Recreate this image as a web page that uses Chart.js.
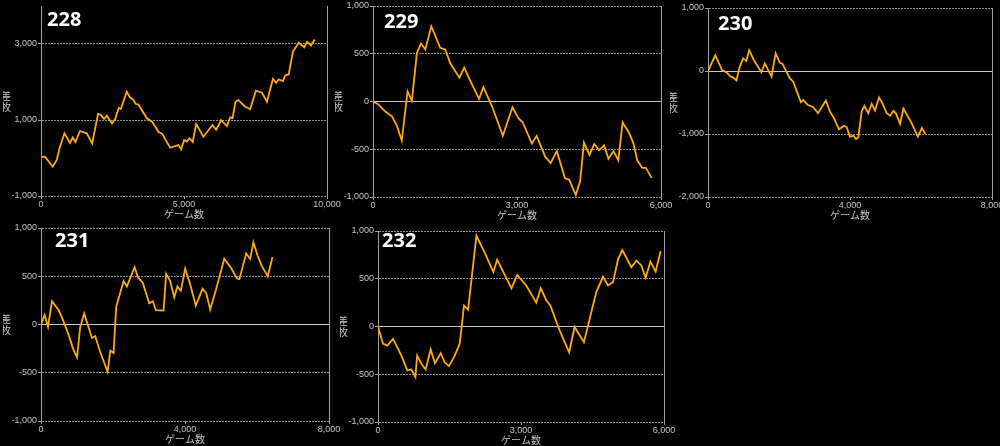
<!DOCTYPE html>
<html>
<head>
<meta charset="utf-8">
<script src="https://cdn.jsdelivr.net/npm/chart.js@4/dist/chart.umd.min.js"></script>
<style>
  html, body { margin: 0; padding: 0; background: #000; }
  body { position: relative; width: 1000px; height: 446px; overflow: hidden; }
  canvas { position: absolute; }
  .num { position: absolute; color: #fff; font: bold 20px "Noto Sans", sans-serif; line-height: 20px; }
</style>
</head>
<body>
<script>
// machine 228
const games228 = [0, 140, 410, 550, 665, 820, 1015, 1110, 1200, 1365, 1600, 1790, 1995, 2085, 2205, 2300, 2485, 2590, 2720, 2790, 3000, 3115, 3230, 3315, 3405, 3700, 3885, 4105, 4245, 4515, 4805, 4900, 5005, 5100, 5190, 5305, 5425, 5680, 5995, 6125, 6300, 6500, 6615, 6700, 6800, 6900, 7140, 7315, 7515, 7725, 7900, 8110, 8225, 8310, 8460, 8540, 8660, 8810, 9010, 9205, 9300, 9440, 9570];
const diff228 = [30, 35, -230, -50, 300, 650, 400, 540, 420, 710, 650, 385, 1160, 1140, 1030, 1110, 910, 1020, 1320, 1290, 1745, 1590, 1530, 1420, 1410, 1045, 955, 690, 630, 270, 340, 230, 470, 430, 520, 420, 895, 560, 870, 740, 1000, 840, 1070, 1050, 1480, 1525, 1350, 1290, 1770, 1720, 1480, 2080, 1980, 2070, 2025, 2180, 2200, 2800, 3035, 2915, 3060, 2960, 3120];
const xTicks228 = [0, 5000, 10000];
const yTicks228 = [-1000, 1000, 3000];

// machine 229
const games229 = [0, 100, 255, 395, 500, 600, 720, 810, 915, 1000, 1090, 1215, 1400, 1505, 1610, 1800, 1900, 2010, 2210, 2300, 2475, 2705, 2905, 3030, 3120, 3310, 3410, 3585, 3700, 3830, 4000, 4090, 4225, 4315, 4395, 4510, 4610, 4710, 4815, 4905, 5010, 5110, 5200, 5335, 5425, 5505, 5610, 5685, 5805];
const diff229 = [0, -25, -105, -155, -255, -410, 105, 10, 510, 608, 545, 788, 563, 545, 400, 250, 355, 235, 28, 150, -45, -360, -60, -175, -220, -440, -360, -575, -645, -520, -805, -820, -980, -835, -430, -560, -445, -510, -460, -600, -520, -615, -220, -330, -435, -615, -695, -695, -800];
const xTicks229 = [0, 3000, 6000];
const yTicks229 = [-1000, -500, 0, 500, 1000];

// machine 230
const games230 = [0, 205, 395, 520, 615, 705, 800, 895, 990, 1080, 1160, 1290, 1505, 1600, 1790, 1905, 2025, 2090, 2305, 2400, 2615, 2680, 2805, 2965, 3100, 3320, 3435, 3550, 3690, 3830, 3905, 4000, 4095, 4170, 4235, 4330, 4405, 4515, 4610, 4705, 4820, 4910, 5035, 5130, 5225, 5300, 5410, 5505, 5725, 5910, 6025, 6120];
const diff230 = [0, 250, 15, -20, -80, -100, -150, 70, 200, 160, 330, 175, -20, 120, -90, 280, 130, 120, -115, -170, -495, -460, -535, -575, -670, -470, -645, -750, -925, -870, -890, -1045, -1025, -1080, -1055, -640, -555, -670, -520, -625, -420, -510, -670, -710, -630, -680, -840, -595, -815, -1040, -905, -995];
const xTicks230 = [0, 4000, 8000];
const yTicks230 = [-2000, -1000, 0, 1000];

// machine 231
const games231 = [0, 100, 195, 305, 490, 630, 770, 890, 1000, 1090, 1200, 1415, 1505, 1645, 1850, 1925, 2015, 2090, 2295, 2385, 2600, 2690, 2830, 3005, 3110, 3190, 3405, 3475, 3590, 3700, 3790, 3885, 4005, 4145, 4300, 4485, 4590, 4700, 4885, 5090, 5280, 5440, 5510, 5700, 5810, 5900, 6020, 6135, 6300, 6430];
const diff231 = [0, 100, -25, 240, 150, 30, -110, -250, -340, -25, 115, -140, -120, -285, -490, -270, -295, 185, 450, 395, 595, 490, 430, 220, 240, 150, 145, 525, 450, 280, 395, 350, 580, 415, 195, 370, 325, 155, 395, 680, 585, 480, 470, 735, 680, 850, 710, 605, 500, 700];
const xTicks231 = [0, 4000, 8000];
const yTicks231 = [-1000, -500, 0, 500, 1000];

// machine 232
const games232 = [0, 105, 195, 315, 420, 505, 615, 700, 785, 820, 910, 1000, 1105, 1195, 1315, 1400, 1490, 1610, 1715, 1805, 1890, 2065, 2240, 2420, 2500, 2800, 2920, 3110, 3320, 3415, 3530, 3615, 3810, 4010, 4125, 4320, 4460, 4580, 4720, 4825, 4930, 5035, 5125, 5315, 5420, 5525, 5615, 5715, 5825, 5930];
const diff232 = [0, -180, -200, -130, -235, -320, -460, -450, -530, -305, -390, -450, -240, -385, -280, -375, -415, -305, -180, 220, 175, 950, 770, 570, 700, 400, 540, 430, 250, 400, 275, 220, -40, -270, -5, -165, 120, 360, 520, 430, 465, 700, 800, 620, 690, 640, 510, 680, 575, 790];
const xTicks232 = [0, 3000, 6000];
const yTicks232 = [-1000, -500, 0, 500, 1000];

const ORANGE = 'rgb(250,168,30)';
const LABEL = '#c4c4c4';
const AXIS = '#a0a0a0';
const Y_W = 38;   // y axis box width
const X_H = 26;   // x axis box height
const PAD_T = 10;
const PAD_R = 20;

// plot boxes
const panels = [
  { name: '228', games: games228, diff: diff228, xTicks: xTicks228, yTicks: yTicks228, xMax: 10000, yMin: -1000, yMax: 4000,
    box: { left: 41, right: 327, top: 6, bottom: 196 }, numPos: [47, 9] },
  { name: '229', games: games229, diff: diff229, xTicks: xTicks229, yTicks: yTicks229, xMax: 6000, yMin: -1000, yMax: 1000,
    box: { left: 373, right: 661, top: 6, bottom: 197 }, numPos: [384, 11] },
  { name: '230', games: games230, diff: diff230, xTicks: xTicks230, yTicks: yTicks230, xMax: 8000, yMin: -2000, yMax: 1000,
    box: { left: 708, right: 992, top: 8, bottom: 197 }, numPos: [718, 13] },
  { name: '231', games: games231, diff: diff231, xTicks: xTicks231, yTicks: yTicks231, xMax: 8000, yMin: -1000, yMax: 1000,
    box: { left: 41, right: 329, top: 228, bottom: 421 }, numPos: [55, 230] },
  { name: '232', games: games232, diff: diff232, xTicks: xTicks232, yTicks: yTicks232, xMax: 6000, yMin: -1000, yMax: 1000,
    box: { left: 378, right: 664, top: 231, bottom: 422 }, numPos: [382, 230] }
];

// stacked "差枚" left of the y axis
const yTitlePlugin = {
  id: 'yTitle',
  afterDraw(chart) {
    const { ctx, chartArea } = chart;
    const cx = chartArea.left - 35;
    const cy = (chartArea.top + chartArea.bottom) / 2;
    ctx.save();
    ctx.fillStyle = LABEL;
    ctx.font = '10px "Noto Sans CJK JP"';
    ctx.textAlign = 'center';
    ctx.textBaseline = 'middle';
    ctx.fillText('差', cx, cy - 5);
    ctx.fillText('枚', cx, cy + 6);
    ctx.restore();
  }
};

const fmt = v => v.toLocaleString('en-US');

function makeChart(p) {
  const canvas = document.createElement('canvas');
  const cl = p.box.left - Y_W;
  const ct = p.box.top - PAD_T;
  canvas.width = p.box.right - cl + PAD_R;
  canvas.height = p.box.bottom - ct + X_H;
  canvas.style.left = cl + 'px';
  canvas.style.top = ct + 'px';
  document.body.appendChild(canvas);

  const label = document.createElement('div');
  label.className = 'num';
  label.textContent = p.name;
  label.style.left = p.numPos[0] + 'px';
  label.style.top = p.numPos[1] + 'px';
  document.body.appendChild(label);

  new Chart(canvas, {
    type: 'line',
    data: {
      datasets: [{
        data: p.games.map((g, i) => ({ x: g, y: p.diff[i] })),
        borderColor: ORANGE,
        borderWidth: 1.8,
        pointRadius: 0,
        tension: 0
      }]
    },
    options: {
      responsive: false,
      animation: false,
      devicePixelRatio: 1,
      layout: { padding: { top: PAD_T, right: PAD_R, left: 0, bottom: 0 } },
      plugins: { legend: { display: false }, tooltip: { enabled: false } },
      scales: {
        x: {
          type: 'linear',
          min: 0,
          max: p.xMax,
          afterBuildTicks: s => { s.ticks = p.xTicks.map(v => ({ value: v })); },
          afterFit: s => { s.height = X_H; },
          ticks: { color: LABEL, font: { family: 'Liberation Sans', size: 9 }, padding: 0, maxRotation: 0, callback: v => fmt(v) },
          grid: {
            drawOnChartArea: true,
            color: c => (c.tick && c.tick.value === p.xMax) ? AXIS : 'rgba(0,0,0,0)',
            tickColor: AXIS,
            tickLength: 3
          },
          border: { display: false, dash: [] },
          title: { display: true, text: 'ゲーム数', color: LABEL, font: { family: 'Noto Sans CJK JP', size: 10 }, padding: { top: 0, bottom: 2 } }
        },
        y: {
          min: p.yMin,
          max: p.yMax,
          afterBuildTicks: s => { s.ticks = p.yTicks.map(v => ({ value: v })); },
          afterFit: s => { s.width = Y_W; },
          ticks: { color: LABEL, font: { family: 'Liberation Sans', size: 9 }, padding: 1, callback: v => fmt(v) },
          grid: {
            color: c => (c.tick && c.tick.value === 0) ? '#c8c8c8' : '#8a8a8a',
            borderDash: c => (c.tick && c.tick.value !== 0) ? [2, 1] : [],
            tickColor: AXIS,
            tickLength: 3
          },
          border: {
            display: true,
            color: AXIS,
            dash: c => (c.tick && c.tick.value !== 0) ? [2, 1] : []
          }
        }
      }
    },
    plugins: [yTitlePlugin]
  });
}

panels.forEach(makeChart);
</script>
</body>
</html>
